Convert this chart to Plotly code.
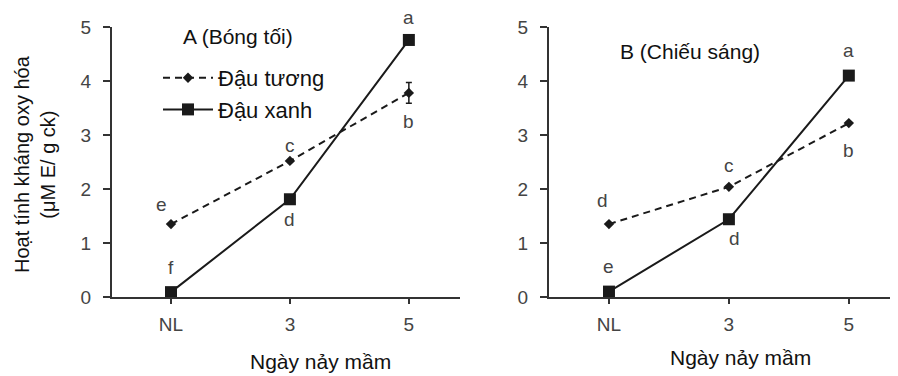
import plotly.graph_objects as go

# The page body adds an 8px offset; figure is sized/positioned to compensate.
OFF = 8
W, H = 898 - OFF, 376 - OFF

categories = ["NL", "3", "5"]

# Panel A (Bóng tối)
a_dautuong = [1.35, 2.52, 3.78]
a_dautuong_err = [0.0, 0.0, 0.19]
a_dauxanh = [0.09, 1.81, 4.76]
a_dautuong_letters = ["e", "c", "b"]
a_dauxanh_letters = ["f", "d", "a"]

# Panel B (Chiếu sáng)
b_dautuong = [1.35, 2.04, 3.22]
b_dauxanh = [0.10, 1.44, 4.10]
b_dautuong_letters = ["d", "c", "b"]
b_dauxanh_letters = ["e", "d", "a"]

series_names = ["Đậu tương", "Đậu xanh"]
panel_titles = ["A (Bóng tối)", "B (Chiếu sáng)"]
x_title = "Ngày nảy mầm"
y_title = "Hoạt tính kháng oxy hóa<br>(μM E/ g ck)"
y_ticks = [0, 1, 2, 3, 4, 5]

FONT = "Liberation Sans, Arial, sans-serif"
LINE = "#1a1a1a"
TXT = "#333333"


def px_x(p):
    return (p - OFF) / W


def px_y(p):
    return 1 - (p - OFF) / H


fig = go.Figure()

dash_style = dict(color=LINE, width=2, dash="7px,5px")
solid_style = dict(color=LINE, width=2)

# Panel A traces
fig.add_trace(go.Scatter(
    x=categories, y=a_dautuong, name=series_names[0], mode="lines+markers",
    line=dash_style, marker=dict(symbol="diamond", size=8, color=LINE),
    error_y=dict(type="data", array=a_dautuong_err, visible=True, color=LINE, thickness=1.5, width=3),
    xaxis="x", yaxis="y", legendgroup="g1", cliponaxis=False))
fig.add_trace(go.Scatter(
    x=categories, y=a_dauxanh, name=series_names[1], mode="lines+markers",
    line=solid_style, marker=dict(symbol="square", size=12, color=LINE),
    xaxis="x", yaxis="y", legendgroup="g2", cliponaxis=False))

# Panel B traces
fig.add_trace(go.Scatter(
    x=categories, y=b_dautuong, name=series_names[0], mode="lines+markers",
    line=dash_style, marker=dict(symbol="diamond", size=8, color=LINE),
    xaxis="x2", yaxis="y2", showlegend=False, cliponaxis=False))
fig.add_trace(go.Scatter(
    x=categories, y=b_dauxanh, name=series_names[1], mode="lines+markers",
    line=solid_style, marker=dict(symbol="square", size=12, color=LINE),
    xaxis="x2", yaxis="y2", showlegend=False, cliponaxis=False))

ydom = [px_y(297), px_y(27)]

axis_common = dict(
    showline=True, linecolor="#333333", linewidth=2, ticks="outside",
    tickcolor="#333333", tickwidth=1.5, showgrid=False, zeroline=False,
    automargin=False,
    tickfont=dict(family=FONT, size=19, color="#444444"),
)

fig.update_layout(
    width=W, height=H,
    margin=dict(l=0, r=0, t=0, b=0, pad=0),
    paper_bgcolor="white", plot_bgcolor="white",
    font=dict(family=FONT, color=TXT),
    xaxis=dict(domain=[px_x(112), px_x(460)], type="category",
               range=[-0.496, 2.43], ticklen=5, ticklabelstandoff=4,
               anchor="y", **axis_common),
    yaxis=dict(domain=ydom, range=[0, 5], tickvals=y_ticks, ticklen=7,
               ticklabelstandoff=8, anchor="x", **axis_common),
    xaxis2=dict(domain=[px_x(549), 1.0], type="category",
                range=[-0.5, 2.41], ticklen=5, ticklabelstandoff=4,
                anchor="y2", **axis_common),
    yaxis2=dict(domain=ydom, range=[0, 5], tickvals=y_ticks, ticklen=7,
                ticklabelstandoff=8, anchor="x2", **axis_common),
    showlegend=True,
    legend=dict(x=px_x(158), y=px_y(57), xanchor="left", yanchor="top",
                bgcolor="white", font=dict(family=FONT, size=22, color="#111111"),
                traceorder="grouped", tracegroupgap=0, itemwidth=50,
                borderwidth=0),
)

annotations = []
title_font = dict(family=FONT, size=21, color="#111111")


def paper_text(text, xp, yp, **kw):
    d = dict(text=text, x=px_x(xp), y=px_y(yp), xref="paper", yref="paper",
             xanchor="center", yanchor="middle", showarrow=False, font=title_font)
    d.update(kw)
    return d


# panel titles
annotations.append(paper_text(panel_titles[0], 238, 36))
annotations.append(paper_text(panel_titles[1], 690, 52))
# x titles
annotations.append(paper_text(x_title, 320, 361))
annotations.append(paper_text(x_title, 740, 357))
# y title
annotations.append(paper_text(y_title, 35, 164, textangle=-90, align="center",
                              font=dict(family=FONT, size=20, color="#111111")))

# significance letters: (letters, values, xref, yref, yshifts, xshifts)
letter_sets = [
    (a_dautuong_letters, a_dautuong, "x", "y", [20, 15, -29], [-9, 0, 0]),
    (a_dauxanh_letters, a_dauxanh, "x", "y", [25, -20, 22], [0, 0, 0]),
    (b_dautuong_letters, b_dautuong, "x2", "y2", [24, 21, -27], [-6, 0, 0]),
    (b_dauxanh_letters, b_dauxanh, "x2", "y2", [25, -19, 25], [0, 6, 0]),
]
for letters, vals, xr, yr, ysh, xsh in letter_sets:
    for i, (lt, v) in enumerate(zip(letters, vals)):
        annotations.append(dict(text=lt, x=i, y=v, xref=xr, yref=yr,
                                xanchor="center", yanchor="middle",
                                showarrow=False, yshift=ysh[i], xshift=xsh[i],
                                font=dict(family=FONT, size=19, color="#444444")))

fig.update_layout(annotations=annotations)

fig.write_html("out.html")
